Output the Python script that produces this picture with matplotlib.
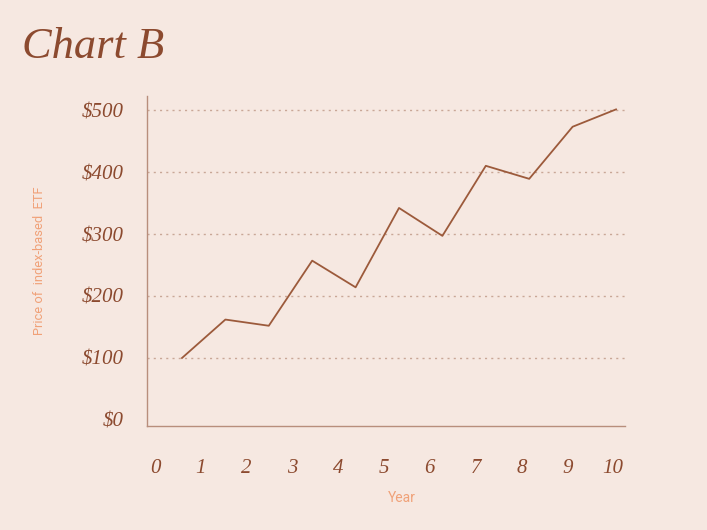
import numpy as np
import matplotlib
matplotlib.use('Agg')
from matplotlib import pyplot as plt

# data
years = [0, 1, 2, 3, 4, 5, 6, 7, 8, 9, 10]
price = [100, 162, 152, 257, 214, 342, 297, 410, 389, 473, 501]
ytick_vals = [0, 100, 200, 300, 400, 500]
ytick_labels = ['$0', '$100', '$200', '$300', '$400', '$500']
xtick_labels = ['0', '1', '2', '3', '4', '5', '6', '7', '8', '9', '10']

bg = '#f6e8e1'
brown = '#8c4a2f'
line_col = '#9c5a3b'
orange = '#f0a178'
grid_col = '#c9a797'
spine_col = '#b88e7c'

fig = plt.figure(figsize=(7.07, 5.30), dpi=100, facecolor=bg)
ax = fig.add_axes([147/707, 1 - 426/530, 478/707, 330/530])
ax.set_facecolor(bg)

# label axis (tick labels sit on their own spacing)
ax.set_xlim(-0.175, 10.26)
ax.set_ylim(-9.7, 522.6)
ax.set_xticks(range(len(xtick_labels)))
ax.set_xticklabels(xtick_labels, fontfamily='Liberation Serif', fontstyle='italic',
                   fontsize=15, color=brown)
ax.set_yticks(ytick_vals)
ax.set_yticklabels(ytick_labels, fontfamily='Liberation Serif', fontstyle='italic',
                   fontsize=15, color=brown)
ax.tick_params(axis='x', length=0, pad=24)
ax.tick_params(axis='y', length=0, pad=17)

for v in ytick_vals[1:]:
	ax.axhline(v, color=grid_col, lw=1.0, ls=(0, (1.5, 3)), zorder=1)

for s in ['top', 'right']:
	ax.spines[s].set_visible(False)
for s in ['left', 'bottom']:
	ax.spines[s].set_color(spine_col)
	ax.spines[s].set_linewidth(1.0)

ax.set_ylabel('Price of  index-based  ETF', fontfamily='Roboto', fontsize=9.3, color=orange)
ax.yaxis.set_label_coords(-0.212, 0.5)
ax.set_xlabel('Year', fontfamily='Roboto', fontsize=10, color=orange)
ax.xaxis.set_label_coords(0.533, -0.196)

# line drawn on a hidden twin axis
ax2 = ax.twiny()
ax2.set_xlim(-0.806, 10.207)
ax2.set_ylim(ax.get_ylim())
ax2.plot(years, price, color=line_col, lw=1.3, zorder=3)
ax2.axis('off')

fig.text(22/707, 1 - 47/530, 'Chart B', fontfamily='Liberation Serif', fontstyle='italic',
         fontsize=32, color=brown, va='center', ha='left')

fig.savefig('out.png', dpi=100, facecolor=bg)
